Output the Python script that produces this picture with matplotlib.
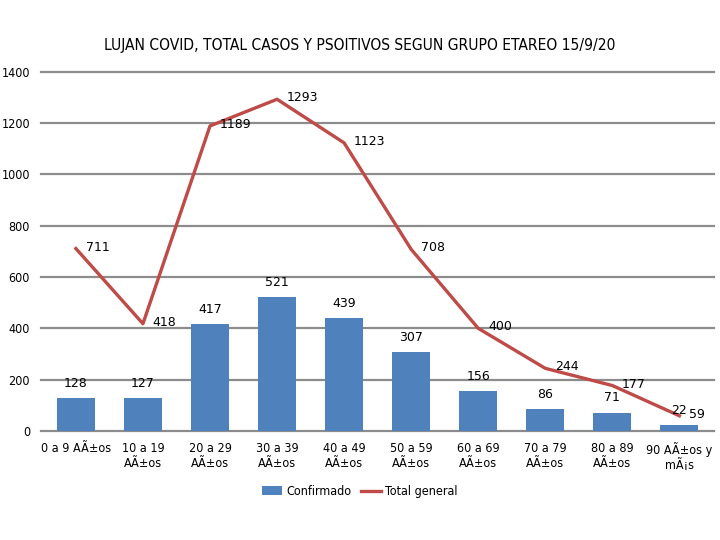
import matplotlib.pyplot as plt
import numpy as np

categories = ['0 a 9 AÃ±os', '10 a 19\nAÃ±os', '20 a 29\nAÃ±os', '30 a 39\nAÃ±os',
              '40 a 49\nAÃ±os', '50 a 59\nAÃ±os', '60 a 69\nAÃ±os', '70 a 79\nAÃ±os',
              '80 a 89\nAÃ±os', '90 AÃ±os y\nmÃ¡s']
confirmado = [128, 127, 417, 521, 439, 307, 156, 86, 71, 22]
total_general = [711, 418, 1189, 1293, 1123, 708, 400, 244, 177, 59]
yticks = [0, 200, 400, 600, 800, 1000, 1200, 1400]

plt.rcParams['font.family'] = ['DejaVu Sans']
plt.rcParams['font.stretch'] = 'condensed'

fig = plt.figure(figsize=(7.2, 5.4), dpi=100)
ax = fig.add_axes([0.057, 0.202, 0.935, 0.665])

x = np.arange(len(categories))
bar_color = '#4F81BD'
line_color = '#BE4B48'

for y in yticks:
    ax.axhline(y, color='#8c8c8c', linewidth=1.6, zorder=0, clip_on=False)

bars = ax.bar(x, confirmado, width=0.57, color=bar_color, label='Confirmado', zorder=2)
line, = ax.plot(x, total_general, color=line_color, linewidth=2.4, label='Total general', zorder=3)

# data labels
for xi, v in zip(x, confirmado):
    ax.annotate(str(v), (xi, v), xytext=(0, 6), textcoords='offset points',
                ha='center', va='bottom', fontsize=9, fontstretch='normal')
for xi, v in zip(x, total_general):
    ax.annotate(str(v), (xi, v), xytext=(7, 1), textcoords='offset points',
                ha='left', va='center', fontsize=9, fontstretch='normal')

ax.set_xlim(-0.52, len(categories) - 0.48)
ax.set_ylim(0, 1400)
ax.set_yticks(yticks)
ax.set_xticks(x)
ax.set_xticklabels(categories, fontsize=9)
ax.tick_params(axis='y', labelsize=9, length=0, pad=8)
ax.tick_params(axis='x', length=0, pad=8)
for s in ax.spines.values():
    s.set_visible(False)

fig.text(0.5, 0.915, 'LUJAN COVID, TOTAL CASOS Y PSOITIVOS SEGUN GRUPO ETAREO 15/9/20',
         ha='center', va='center', fontsize=11.2)

fig.legend([bars, line], ['Confirmado', 'Total general'], loc='center',
           bbox_to_anchor=(0.5, 0.09), ncol=2, frameon=False,
           fontsize=9, handlelength=1.6, columnspacing=0.8, handletextpad=0.3)

fig.savefig('out.png', dpi=100)
